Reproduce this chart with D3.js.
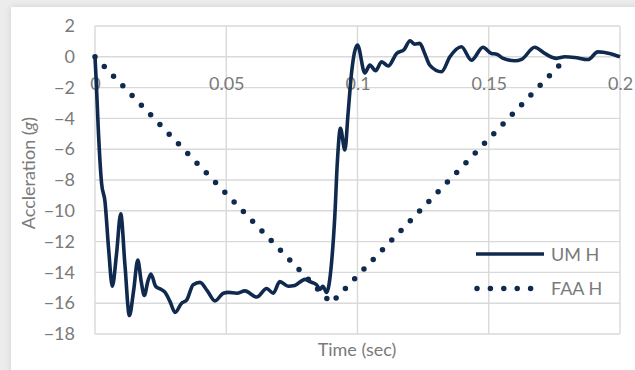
<!DOCTYPE html>
<html>
<head>
<meta charset="utf-8">
<script src="https://cdn.jsdelivr.net/npm/d3@7/dist/d3.min.js"></script>
<style>
  body { margin: 0; background: #ececec; }
  svg { display: block; }
  text { font-family: Lato, "Open Sans", sans-serif; fill: #7a7a7a; }
</style>
</head>
<body>
<svg id="chart" width="635" height="370"></svg>
<script>
// UM H measured trace (time in sec, acceleration in g)
var umTime = [0, 0.0005, 0.0012, 0.0025, 0.0038, 0.0052, 0.0066, 0.0082, 0.0098, 0.0114, 0.0131,
  0.0147, 0.0163, 0.0176, 0.0188, 0.0201, 0.0213, 0.0231, 0.0251, 0.0267, 0.0286, 0.0305, 0.033,
  0.0349, 0.0374, 0.04, 0.0428, 0.0457, 0.0489, 0.0508, 0.054, 0.0571, 0.0616, 0.0654, 0.0679,
  0.0704, 0.0736, 0.0761, 0.08, 0.0819, 0.0844, 0.0857, 0.0868, 0.0882, 0.0901, 0.0914, 0.0923,
  0.0935, 0.0952, 0.0964, 0.0977, 0.1, 0.1028, 0.1047, 0.1069, 0.1092, 0.1117, 0.1149, 0.1178,
  0.12, 0.1218, 0.1237, 0.1256, 0.1275, 0.132, 0.1352, 0.1396, 0.1434, 0.1478, 0.151, 0.153,
  0.1555, 0.16, 0.1625, 0.1675, 0.1713, 0.1758, 0.179, 0.1827, 0.1878, 0.1916, 0.196, 0.2];
var umAccel = [0, -1.7, -4.5, -8.2, -9.4, -12.5, -14.9, -12.8, -10.2, -13.5, -16.8,
  -15.2, -13.2, -14.6, -15.5, -14.6, -14.1, -14.9, -15.1, -15.3, -15.9, -16.6, -16.0,
  -15.8, -14.8, -14.65, -15.2, -15.85, -15.35, -15.3, -15.35, -15.2, -15.6, -15.05, -15.35,
  -14.6, -14.9, -14.85, -14.45, -14.6, -14.8, -15.1, -14.9, -15.3, -13.4, -10.2, -6.9,
  -4.65, -6.05, -3.7, -1.1, 0.76, -1.05, -0.54, -0.9, -0.32, -0.6, 0.22, 0.48,
  1.04, 0.82, 0.87, 0.22, -0.54, -0.97, 0.0, 0.65, -0.22, 0.62, 0.22, 0.17,
  -0.1, -0.26, -0.17, 0.62, 0.22, -0.1, 0.0, -0.04, -0.18, 0.32, 0.22, 0.0];

// FAA H triangular pulse
var faaTime = [0, 0.09, 0.18];
var faaAccel = [0, -16, 0];

var xTicks = [0, 0.05, 0.1, 0.15, 0.2];
var xTickLabels = ["0", "0.05", "0.1", "0.15", "0.2"];
var yTicks = [2, 0, -2, -4, -6, -8, -10, -12, -14, -16, -18];

var seriesNames = ["UM H", "FAA H"];
var lineColor = "#0f2a4e";
var fontSize = "18px";

var svg = d3.select("#chart");

var defs = svg.append("defs");
var shadow = defs.append("filter").attr("id", "shadow")
  .attr("x", "-5%").attr("y", "-5%").attr("width", "110%").attr("height", "110%");
shadow.append("feGaussianBlur").attr("in", "SourceAlpha").attr("stdDeviation", 3);
shadow.append("feOffset").attr("dx", 0).attr("dy", 0).attr("result", "blur");
shadow.append("feFlood").attr("flood-color", "#000").attr("flood-opacity", 0.12);
shadow.append("feComposite").attr("in2", "blur").attr("operator", "in");
var merge = shadow.append("feMerge");
merge.append("feMergeNode");
merge.append("feMergeNode").attr("in", "SourceGraphic");

svg.append("rect")
  .attr("x", 11).attr("y", 7)
  .attr("width", 640).attr("height", 380)
  .attr("fill", "#fff")
  .attr("filter", "url(#shadow)");

var x = d3.scaleLinear().domain([0, 0.2]).range([95, 620]);
var y = d3.scaleLinear().domain([-18, 2]).range([334, 26]);

// gridlines
var grid = svg.append("g")
  .attr("stroke", "#d9d9d9")
  .attr("stroke-width", 1.4);

grid.selectAll("line.h")
  .data(yTicks)
  .enter().append("line")
  .attr("class", "h")
  .attr("x1", x(0)).attr("x2", x(0.2))
  .attr("y1", function(d) { return y(d); })
  .attr("y2", function(d) { return y(d); });

grid.selectAll("line.v")
  .data(xTicks)
  .enter().append("line")
  .attr("class", "v")
  .attr("y1", y(2)).attr("y2", y(-18))
  .attr("x1", function(d) { return x(d); })
  .attr("x2", function(d) { return x(d); });

// y axis labels
var yAxis = d3.axisLeft(y)
  .tickValues(yTicks)
  .tickSize(0)
  .tickPadding(20)
  .tickFormat(function(d) { return d < 0 ? "\u2212" + Math.abs(d) : String(d); });

svg.append("g")
  .attr("transform", "translate(" + x(0) + ",0)")
  .call(yAxis)
  .call(function(g) {
    g.select(".domain").remove();
    g.selectAll("text")
      .attr("fill", "#7a7a7a")
      .style("font-size", fontSize)
      .style("font-family", "Lato, sans-serif");
  });

// x axis labels sit just below the zero line
var xAxis = d3.axisBottom(x)
  .tickValues(xTicks)
  .tickSize(0)
  .tickPadding(20)
  .tickFormat(function(d, i) { return xTickLabels[i]; });

svg.append("g")
  .attr("transform", "translate(0," + y(0) + ")")
  .call(xAxis)
  .call(function(g) {
    g.select(".domain").remove();
    g.selectAll("text")
      .attr("fill", "#7a7a7a")
      .style("font-size", fontSize)
      .style("font-family", "Lato, sans-serif");
  });

// series
var umData = umTime.map(function(t, i) { return [t, umAccel[i]]; });
var faaData = faaTime.map(function(t, i) { return [t, faaAccel[i]]; });

var line = d3.line()
  .x(function(d) { return x(d[0]); })
  .y(function(d) { return y(d[1]); });

svg.append("path")
  .datum(faaData)
  .attr("fill", "none")
  .attr("stroke", lineColor)
  .attr("stroke-width", 5.5)
  .attr("stroke-linecap", "round")
  .attr("stroke-dasharray", "0 13.4")
  .attr("d", line);

svg.append("path")
  .datum(umData)
  .attr("fill", "none")
  .attr("stroke", lineColor)
  .attr("stroke-width", 3.6)
  .attr("stroke-linejoin", "round")
  .attr("d", line.curve(d3.curveMonotoneX));

// legend
var legend = svg.append("g");
legend.append("line")
  .attr("x1", 476).attr("x2", 544)
  .attr("y1", 254).attr("y2", 254)
  .attr("stroke", lineColor).attr("stroke-width", 3.6);
legend.append("line")
  .attr("x1", 477).attr("x2", 532)
  .attr("y1", 288.5).attr("y2", 288.5)
  .attr("stroke", lineColor).attr("stroke-width", 5.5)
  .attr("stroke-linecap", "round")
  .attr("stroke-dasharray", "0 13.4");
legend.selectAll("text")
  .data(seriesNames)
  .enter().append("text")
  .attr("x", 551)
  .attr("y", function(d, i) { return 261 + i * 34; })
  .style("font-size", fontSize)
  .text(function(d) { return d; });

// axis titles
svg.append("text")
  .attr("x", 357).attr("y", 356)
  .attr("text-anchor", "middle")
  .style("font-size", fontSize)
  .text("Time (sec)");

var yTitle = svg.append("text")
  .attr("transform", "translate(35,173) rotate(-90)")
  .attr("text-anchor", "middle")
  .style("font-size", fontSize);
yTitle.append("tspan").text("Accleration (");
yTitle.append("tspan").style("font-style", "italic").text("g");
yTitle.append("tspan").text(")");
</script>
</body>
</html>
